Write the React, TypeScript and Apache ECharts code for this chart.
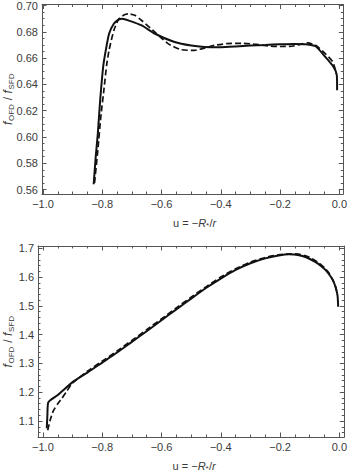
import React, { useEffect, useRef } from "react";
import * as echarts from "echarts";

// ---------- data ----------
const X_MAJOR = [-1.0, -0.8, -0.6, -0.4, -0.2, 0.0];
const TOP_Y_MAJOR = [0.56, 0.58, 0.6, 0.62, 0.64, 0.66, 0.68, 0.7];
const BOT_Y_MAJOR = [1.1, 1.2, 1.3, 1.4, 1.5, 1.6, 1.7];

const TOP_SOLID_U = [-0.829, -0.822, -0.815, -0.807, -0.797, -0.788, -0.777, -0.761, -0.745, -0.733, -0.71, -0.667, -0.622, -0.556, -0.5, -0.456, -0.4, -0.35, -0.3, -0.25, -0.2, -0.15, -0.113, -0.08, -0.047, -0.0195, -0.0085, -0.0076];
const TOP_SOLID_V = [0.564, 0.585, 0.6025, 0.628, 0.6532, 0.666, 0.6785, 0.6861, 0.6892, 0.6899, 0.6885, 0.6848, 0.6785, 0.6722, 0.6695, 0.6685, 0.6683, 0.6688, 0.6695, 0.67, 0.6705, 0.6708, 0.6706, 0.669, 0.6608, 0.6532, 0.6469, 0.6355];

const TOP_DASH_U = [-0.826, -0.815, -0.805, -0.794, -0.785, -0.777, -0.761, -0.744, -0.725, -0.711, -0.69, -0.667, -0.622, -0.578, -0.534, -0.489, -0.456, -0.42, -0.38, -0.33, -0.28, -0.24, -0.2, -0.16, -0.13, -0.107, -0.08, -0.047, -0.022, -0.013, -0.011];
const TOP_DASH_V = [0.565, 0.59, 0.615, 0.6368, 0.655, 0.666, 0.681, 0.6899, 0.693, 0.6937, 0.6925, 0.6886, 0.6797, 0.671, 0.6664, 0.6659, 0.6676, 0.6697, 0.671, 0.6712, 0.6705, 0.6692, 0.6688, 0.669, 0.6705, 0.6716, 0.6697, 0.6633, 0.657, 0.6507, 0.648];

const BOT_SOLID_U = [-0.987, -0.985, -0.982, -0.95, -0.9, -0.85, -0.8, -0.75, -0.7, -0.65, -0.6, -0.55, -0.5, -0.45, -0.4, -0.35, -0.3, -0.25, -0.2, -0.17, -0.14, -0.11, -0.08, -0.06, -0.044, -0.03, -0.02, -0.012, -0.006, -0.004];
const BOT_SOLID_V = [1.075, 1.12, 1.165, 1.19, 1.235, 1.268, 1.303, 1.338, 1.375, 1.412, 1.45, 1.488, 1.525, 1.562, 1.595, 1.625, 1.648, 1.665, 1.676, 1.679, 1.677, 1.668, 1.652, 1.637, 1.622, 1.603, 1.585, 1.562, 1.535, 1.497];

const BOT_DASH_U = [-0.984, -0.975, -0.965, -0.95, -0.935, -0.92, -0.9, -0.85, -0.8, -0.75, -0.7, -0.65, -0.6, -0.55, -0.5, -0.45, -0.4, -0.35, -0.3, -0.25, -0.2, -0.16, -0.13, -0.1, -0.07, -0.05, -0.035, -0.022, -0.012, -0.007];
const BOT_DASH_V = [1.068, 1.105, 1.135, 1.16, 1.18, 1.203, 1.232, 1.273, 1.308, 1.343, 1.38, 1.417, 1.455, 1.493, 1.53, 1.566, 1.6, 1.629, 1.652, 1.668, 1.678, 1.681, 1.678, 1.668, 1.65, 1.632, 1.614, 1.59, 1.565, 1.54];

// ---------- styling ----------
const FRAME = "#555";
const LABEL = "#3a3a3a";
const FONT = "'Liberation Sans', Arial, sans-serif";
const MINUS = "\u2212";

const zip = (u: number[], v: number[]) => u.map((x, i) => [x, v[i]]);
const r4 = (v: number) => Math.round(v * 10000) / 10000;
const minorsBetween = (majors: number[], step: number, lo: number, hi: number) => {
  const out: number[] = [];
  const start = Math.ceil(lo / step - 1e-9);
  const end = Math.floor(hi / step + 1e-9);
  for (let k = start; k <= end; k++) {
    const v = r4(k * step);
    if (!majors.some((m) => Math.abs(m - v) < 1e-6)) out.push(v);
  }
  return out;
};

const fmt = (d: number) => (v: number) => {
  const s = Math.abs(v).toFixed(d);
  return v < -1e-9 ? MINUS + s : s;
};

function makeAxes(dim: "x" | "y", gridIndex: number, min: number, max: number, majors: number[], minors: number[], decimals: number) {
  const pos = dim === "x" ? ["bottom", "top"] : ["left", "right"];
  const base = {
    type: "value",
    gridIndex,
    min,
    max,
    splitLine: { show: false },
    axisLine: { show: true, onZero: false, lineStyle: { color: FRAME, width: 1 } },
  };
  const majorTick = { show: true, inside: true, length: 4.5, customValues: majors, lineStyle: { color: FRAME, width: 1 } };
  const minorTick = { show: true, inside: true, length: 2.5, customValues: minors, lineStyle: { color: FRAME, width: 1 } };
  return [
    {
      ...base,
      position: pos[0],
      axisTick: majorTick,
      axisLabel: {
        show: true,
        customValues: majors,
        formatter: fmt(decimals),
        color: LABEL,
        fontSize: 11,
        fontFamily: FONT,
        margin: 4,
      },
    },
    { ...base, position: pos[0], axisLine: { show: false, onZero: false }, axisTick: minorTick, axisLabel: { show: false } },
    { ...base, position: pos[1], axisTick: majorTick, axisLabel: { show: false } },
    { ...base, position: pos[1], axisLine: { show: false, onZero: false }, axisTick: minorTick, axisLabel: { show: false } },
  ];
}

function yTitle(x: number, y: number) {
  const main = { fontSize: 12, fontFamily: FONT, fill: LABEL, textVerticalAlign: "middle", textAlign: "left" };
  const sub = { fontSize: 8, fontFamily: FONT, fill: LABEL, textVerticalAlign: "middle", textAlign: "left" };
  return {
    type: "group",
    x,
    y,
    rotation: Math.PI / 2,
    children: [
      { type: "text", x: -26, y: 0, style: { ...main, text: "f", fontStyle: "italic" } },
      { type: "text", x: -22, y: 3.5, style: { ...sub, text: "OFD" } },
      { type: "text", x: -4.5, y: 0, style: { ...main, text: " / " } },
      { type: "text", x: 5.5, y: 0, style: { ...main, text: "f", fontStyle: "italic" } },
      { type: "text", x: 9.5, y: 3.5, style: { ...sub, text: "SFD" } },
    ],
  };
}

function xTitle(x: number, y: number) {
  const main = { fontSize: 11, fontFamily: FONT, fill: LABEL, textVerticalAlign: "middle", textAlign: "left" };
  return {
    type: "group",
    x,
    y,
    children: [
      { type: "text", x: -21, y: 0, style: { ...main, text: "u = " + MINUS } },
      { type: "text", x: 4.3, y: 0, style: { ...main, text: "R", fontStyle: "italic" } },
      { type: "text", x: 12, y: 2.5, style: { ...main, fontSize: 8, text: "*" } },
      { type: "text", x: 15.5, y: 0, style: { ...main, text: "/" } },
      { type: "text", x: 18.6, y: 0, style: { ...main, text: "r", fontStyle: "italic" } },
    ],
  };
}

export default function App() {
  const ref = useRef<HTMLDivElement>(null);
  useEffect(() => {
    if (!ref.current) return;
    const chart = echarts.init(ref.current, undefined, { renderer: "svg" });

    const tX = [-1 - 1 / 301, 4 / 301];
    const tY = [0.56 - 4.5 / 1317.9, 0.7 + 1 / 1317.9];
    const bX = [-1 - 5 / 300, 5 / 300];
    const bY = [1.1 - 16 / 287.8, 1.7 + 2.3 / 287.8];

    const topXMinor = minorsBetween(X_MAJOR, 0.05, tX[0], tX[1]);
    const botXMinor = minorsBetween(X_MAJOR, 0.05, bX[0], bX[1]);
    const topYMinor = minorsBetween(TOP_Y_MAJOR, 0.005, tY[0], tY[1]);
    const botYMinor = minorsBetween(BOT_Y_MAJOR, 0.02, bY[0], bY[1]);

    const xAxis = [
      ...makeAxes("x", 0, tX[0], tX[1], X_MAJOR, topXMinor, 1),
      ...makeAxes("x", 1, bX[0], bX[1], X_MAJOR, botXMinor, 1),
    ];
    const yAxis = [
      ...makeAxes("y", 0, tY[0], tY[1], TOP_Y_MAJOR, topYMinor, 2),
      ...makeAxes("y", 1, bY[0], bY[1], BOT_Y_MAJOR, botYMinor, 1),
    ];

    const solid = { type: "line", showSymbol: false, smooth: 0.2, lineStyle: { color: "#111", width: 2 } };
    const dashed = { type: "line", showSymbol: false, smooth: 0.2, lineStyle: { color: "#111", width: 1.7, type: [6, 3] } };

    chart.setOption({
      animation: false,
      grid: [
        { left: 42, top: 4, width: 306, height: 190, containLabel: false },
        { left: 38, top: 246, width: 310, height: 191, containLabel: false },
      ],
      xAxis,
      yAxis,
      series: [
        { ...dashed, xAxisIndex: 0, yAxisIndex: 0, data: zip(TOP_DASH_U, TOP_DASH_V) },
        { ...solid, xAxisIndex: 0, yAxisIndex: 0, data: zip(TOP_SOLID_U, TOP_SOLID_V) },
        { ...dashed, xAxisIndex: 4, yAxisIndex: 4, data: zip(BOT_DASH_U, BOT_DASH_V) },
        { ...solid, xAxisIndex: 4, yAxisIndex: 4, data: zip(BOT_SOLID_U, BOT_SOLID_V) },
      ],
      graphic: [yTitle(8, 99), yTitle(8, 341.5), xTitle(194, 223), xTitle(193.5, 466)],
    });
    return () => chart.dispose();
  }, []);
  return <div ref={ref} style={{ position: "absolute", left: 0, top: 0, width: 350, height: 473 }} />;
}
